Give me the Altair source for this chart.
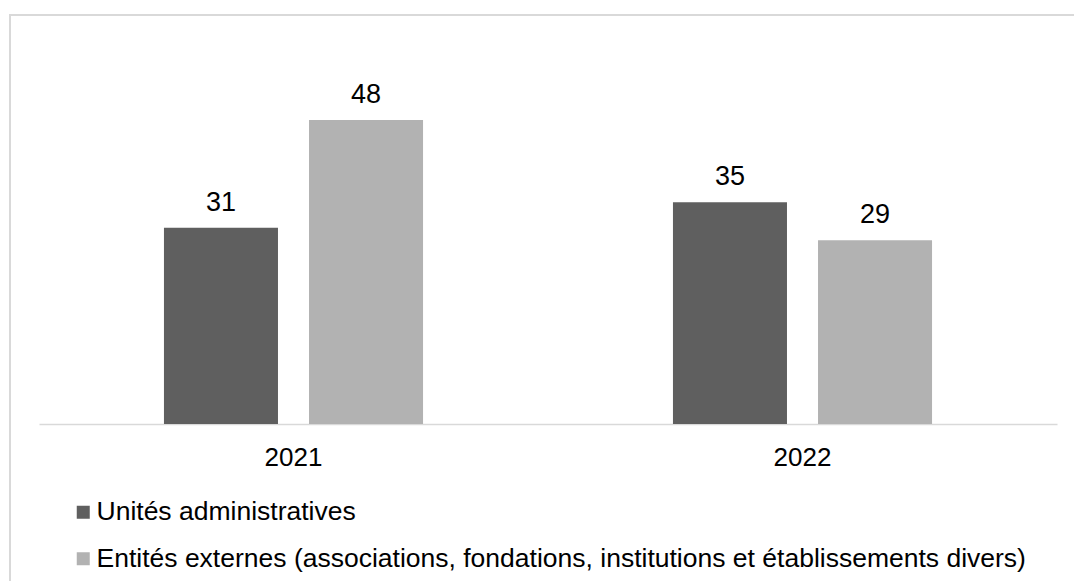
import altair as alt
import pandas as pd

years = ["2021", "2022"]
series = [
    "Unités administratives",
    "Entités externes (associations, fondations, institutions et établissements divers)",
]
admin_values = [31, 35]
external_values = [48, 29]
colors = ["#5f5f5f", "#b2b2b2"]

rows = []
for i, y in enumerate(years):
    rows.append({"annee": y, "serie": series[0], "valeur": admin_values[i]})
    rows.append({"annee": y, "serie": series[1], "valeur": external_values[i]})
df = pd.DataFrame(rows)

FONT = "Liberation Sans"

x_enc = alt.X(
    "annee:N",
    title=None,
    sort=years,
    scale=alt.Scale(paddingInner=0.491, paddingOuter=0.2455),
    axis=alt.Axis(
        labelAngle=0,
        labelFontSize=26,
        labelFont=FONT,
        labelColor="#000000",
        labelBaseline="alphabetic",
        labelPadding=41,
        ticks=False,
        domainColor="#d9d9d9",
        domainWidth=1.5,
        grid=False,
    ),
)
xoff = alt.XOffset("serie:N", sort=series, scale=alt.Scale(paddingInner=0.214, paddingOuter=0))
y_enc = alt.Y("valeur:Q", scale=alt.Scale(domain=[0, 60]), axis=None)

base = alt.Chart(df)

bars = base.mark_bar().encode(
    x=x_enc,
    xOffset=xoff,
    y=y_enc,
    color=alt.Color(
        "serie:N",
        sort=series,
        scale=alt.Scale(domain=series, range=colors),
        legend=alt.Legend(
            title=None,
            orient="none",
            legendX=31,
            legendY=455,
            padding=0,
            direction="vertical",
            symbolType="square",
            symbolSize=169,
            symbolStrokeWidth=0,
            labelFontSize=26.5,
            labelFont=FONT,
            labelColor="#000000",
            labelLimit=1200,
            labelOffset=0,
            rowPadding=19.5,
        ),
    ),
)

labels = base.mark_text(
    baseline="alphabetic", dy=-17, fontSize=27, font=FONT, color="#000000"
).encode(
    x=x_enc,
    xOffset=xoff,
    y=y_enc,
    text=alt.Text("valeur:Q"),
)

border = alt.Chart(pd.DataFrame({"b": [0]})).mark_rect(
    fill=None, stroke="#d9d9d9", strokeWidth=2
).encode(
    x=alt.value(-29),
    x2=alt.value(1060),
    y=alt.value(-29),
    y2=alt.value(570),
)

chart = (
    alt.layer(border, bars, labels)
    .properties(
        width=1018,
        height=380,
        autosize=alt.AutoSizeParams(type="none"),
        padding={"left": 39, "top": 44, "right": 17, "bottom": 157},
        background="#ffffff",
    )
    .configure_view(stroke=None)
)

chart.save("out.html", embed_options={"renderer": "svg", "actions": False})
